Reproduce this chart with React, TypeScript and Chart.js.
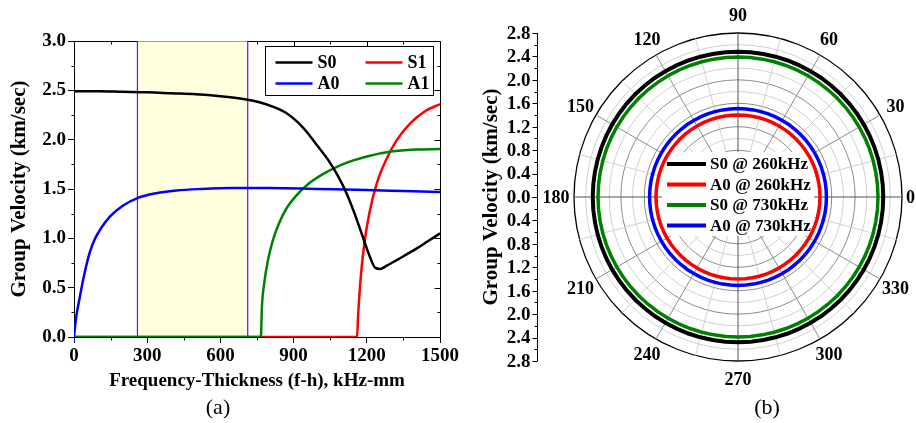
import React, { useEffect, useRef } from 'react';
import { Chart, registerables } from 'chart.js';

Chart.register(...registerables);

const SERIF = '"Liberation Serif", "Times New Roman", Times, serif';

// ---------- Panel (a): group velocity dispersion curves ----------
const s0Freq = [0, 100, 200, 300, 400, 500, 600, 700, 760, 820, 870, 920, 960, 1000, 1040, 1080, 1120, 1150, 1180, 1210, 1235, 1255, 1280, 1330, 1400, 1450, 1500];
const s0Vel = [2.49, 2.49, 2.485, 2.48, 2.47, 2.46, 2.44, 2.41, 2.38, 2.33, 2.27, 2.17, 2.06, 1.93, 1.8, 1.64, 1.44, 1.25, 1.04, 0.83, 0.7, 0.69, 0.72, 0.79, 0.89, 0.97, 1.05];

const s1Freq = [0, 1160, 1165, 1175, 1190, 1210, 1240, 1280, 1324, 1380, 1440, 1500];
const s1Vel = [0, 0, 0.25, 0.6, 0.95, 1.25, 1.55, 1.8, 2.0, 2.17, 2.29, 2.36];

const a0Freq = [0, 4, 10, 18, 25, 35, 50, 65, 85, 110, 147, 200, 262, 330, 420, 520, 650, 800, 1000, 1200, 1350, 1500];
const a0Vel = [0, 0.1, 0.22, 0.33, 0.42, 0.55, 0.72, 0.86, 0.99, 1.1, 1.22, 1.33, 1.41, 1.455, 1.485, 1.5, 1.51, 1.51, 1.5, 1.49, 1.48, 1.47];

const a1Freq = [0, 766, 770, 780, 795, 815, 840, 870, 910, 960, 1020, 1100, 1200, 1300, 1400, 1500];
const a1Vel = [0, 0, 0.3, 0.55, 0.78, 0.98, 1.15, 1.3, 1.43, 1.55, 1.65, 1.75, 1.83, 1.88, 1.9, 1.905];

const bandFreq = [260, 712];
const bandTop = 3.0;

const xTickStep = 300;
const xMinorStep = 150;
const yTickStep = 0.5;
const yMinorStep = 0.25;
const legendOrderA = ['S0', 'S1', 'A0', 'A1'];

// ---------- Panel (b): polar plot ----------
const polarLabels = ['S0 @ 260kHz', 'A0 @ 260kHz', 'S0 @ 730kHz', 'A0 @ 730kHz'];
const polarRadii = [2.48, 1.4, 2.39, 1.51];
const polarColors = ['#000000', '#ff0000', '#008000', '#0000ff'];
const polarWidths = [4, 3.5, 3.5, 3.5];
const angleTickLabels = [0, 30, 60, 90, 120, 150, 180, 210, 240, 270, 300, 330];
const radialTickLabels = [0, 0.4, 0.8, 1.2, 1.6, 2.0, 2.4, 2.8];
// angular categories every 5 degrees, clockwise from 90 (top)
const angleCategories = Array.from({ length: 72 }, (_, i) => (450 - 5 * i) % 360);

function line(ctx: CanvasRenderingContext2D, x1: number, y1: number, x2: number, y2: number) {
  ctx.beginPath();
  ctx.moveTo(x1, y1);
  ctx.lineTo(x2, y2);
  ctx.stroke();
}

const pts = (f: number[], v: number[]) => f.map((x, i) => ({ x, y: v[i] }));

const leftDecor = {
  id: 'leftDecor',
  beforeDatasetsDraw(chart: any) {
    const ctx = chart.ctx as CanvasRenderingContext2D;
    const { left, right, top, bottom } = chart.chartArea;
    const xs = chart.scales.x;
    const ys = chart.scales.y;
    ctx.save();
    ctx.strokeStyle = '#000';
    ctx.lineWidth = 1;
    const L = Math.round(left) + 0.5, R = Math.round(right) + 0.5;
    const T = Math.round(top) + 0.5, B = Math.round(bottom) + 0.5;
    line(ctx, L, T, R, T);
    line(ctx, R, T, R, B);
    for (let f = xs.min; f <= xs.max + 1e-6; f += xMinorStep) {
      const px = Math.round(xs.getPixelForValue(f)) + 0.5;
      const major = Math.abs(f / xTickStep - Math.round(f / xTickStep)) < 1e-6;
      if (!major) line(ctx, px, B, px, B + 3);
      line(ctx, px, T, px, T + (major ? 6 : 3));
    }
    for (let v = ys.min; v <= ys.max + 1e-6; v += yMinorStep) {
      const py = Math.round(ys.getPixelForValue(v)) + 0.5;
      const major = Math.abs(v / yTickStep - Math.round(v / yTickStep)) < 1e-6;
      if (!major) line(ctx, L, py, L - 3, py);
      line(ctx, R, py, R - (major ? 6 : 3), py);
    }
    ctx.restore();
  },
  afterDatasetsDraw(chart: any) {
    const ctx = chart.ctx as CanvasRenderingContext2D;
    const { right, top } = chart.chartArea;
    const bw = 168, bh = 49;
    const bx = Math.round(right - 7 - bw) + 0.5;
    const by = Math.round(top + 5) + 0.5;
    ctx.save();
    ctx.fillStyle = '#fff';
    ctx.fillRect(bx, by, bw, bh);
    ctx.strokeStyle = '#000';
    ctx.lineWidth = 1;
    ctx.strokeRect(bx, by, bw, bh);
    ctx.font = `bold 18px ${SERIF}`;
    ctx.textAlign = 'left';
    ctx.textBaseline = 'middle';
    legendOrderA.forEach((name, i) => {
      const ds = chart.data.datasets.find((d: any) => d.label === name);
      const col = i % 2;
      const row = Math.floor(i / 2);
      const x0 = bx + 10 + col * 90;
      const y = by + 16 + row * 21;
      ctx.strokeStyle = ds.borderColor;
      ctx.lineWidth = 2.5;
      line(ctx, x0, y, x0 + 37, y);
      ctx.fillStyle = '#000';
      ctx.fillText(name, x0 + 42, y + 1);
    });
    ctx.restore();
  },
  afterDraw(chart: any) {
    const ctx = chart.ctx as CanvasRenderingContext2D;
    ctx.save();
    ctx.fillStyle = '#000';
    ctx.font = `22px ${SERIF}`;
    ctx.textAlign = 'center';
    ctx.textBaseline = 'middle';
    ctx.fillText('(a)', 218, 408);
    ctx.restore();
  },
};

const polarDecor = {
  id: 'polarDecor',
  beforeDatasetsDraw(chart: any) {
    const ctx = chart.ctx as CanvasRenderingContext2D;
    const r = chart.scales.r;
    const cx = r.xCenter, cy = r.yCenter;
    ctx.save();
    ctx.fillStyle = '#fff';
    ctx.fillRect(cx - 76, cy - 45, 152, 84);
    ctx.font = `bold 17px ${SERIF}`;
    ctx.textAlign = 'left';
    ctx.textBaseline = 'middle';
    chart.data.datasets.forEach((ds: any, i: number) => {
      const y = cy - 33 + i * 20.5;
      ctx.strokeStyle = ds.borderColor;
      ctx.lineWidth = 4;
      line(ctx, cx - 71, y, cx - 32, y);
      ctx.fillStyle = '#000';
      ctx.fillText(ds.label, cx - 28, y + 1);
    });
    ctx.restore();
  },
  afterDraw(chart: any) {
    const ctx = chart.ctx as CanvasRenderingContext2D;
    const r = chart.scales.r;
    const cx = r.xCenter, cy = r.yCenter, R = r.drawingArea;
    ctx.save();
    ctx.strokeStyle = '#000';
    ctx.fillStyle = '#000';
    ctx.lineWidth = 1;
    const ax = Math.round(cx - R - 37) + 0.5;
    line(ctx, ax, cy - R, ax, cy + R);
    ctx.font = `bold 19px ${SERIF}`;
    ctx.textAlign = 'right';
    ctx.textBaseline = 'middle';
    r.ticks.forEach((t: any) => {
      const d = r.getDistanceFromCenterForValue(t.value);
      const major = radialTickLabels.some((v) => Math.abs(v - t.value) < 1e-6);
      [-1, 1].forEach((s) => {
        const y = Math.round(cy + s * d) + 0.5;
        line(ctx, ax, y, ax - (major ? 5 : 3), y);
        if (major && !(s === 1 && Math.abs(t.value) < 1e-6)) {
          ctx.fillText(Number(t.value).toFixed(1), ax - 7, cy + s * d + 1);
        }
      });
    });
    ctx.font = `bold 18px ${SERIF}`;
    ctx.textAlign = 'center';
    angleTickLabels.forEach((a) => {
      const idx = angleCategories.indexOf(a);
      const p = r.getPointPosition(idx, R + 18);
      const txt = String(a);
      const w = ctx.measureText(txt).width;
      const x = Math.min(p.x, chart.width - w / 2 - 1);
      ctx.fillText(txt, x, p.y + 1);
    });
    ctx.save();
    ctx.translate(12, cy);
    ctx.rotate(-Math.PI / 2);
    ctx.font = `bold 21px ${SERIF}`;
    ctx.fillText('Group Velocity (km/sec)', 0, 0);
    ctx.restore();
    ctx.font = `22px ${SERIF}`;
    ctx.fillText('(b)', 287, 408);
    ctx.restore();
  },
};

export default function App() {
  const leftRef = useRef<HTMLCanvasElement>(null);
  const rightRef = useRef<HTMLCanvasElement>(null);

  useEffect(() => {
    const tickFont = { family: SERIF, size: 19, weight: 'bold' as const };
    const curve = (label: string, f: number[], v: number[], color: string, order: number) => ({
      label,
      data: pts(f, v),
      borderColor: color,
      borderWidth: 2.5,
      pointRadius: 0,
      fill: false,
      cubicInterpolationMode: 'monotone' as const,
      order,
    });
    const left = new Chart(leftRef.current!, {
      type: 'line',
      data: {
        datasets: [
          curve('S0', s0Freq, s0Vel, '#000000', 0),
          curve('S1', s1Freq, s1Vel, '#ff0000', 3),
          curve('A0', a0Freq, a0Vel, '#0000ff', 1),
          curve('A1', a1Freq, a1Vel, '#008000', 2),
          {
            label: 'band',
            data: [
              { x: bandFreq[0], y: 0 },
              { x: bandFreq[0], y: bandTop },
              { x: bandFreq[1], y: bandTop },
              { x: bandFreq[1], y: 0 },
            ],
            borderColor: '#8000ff',
            backgroundColor: '#ffffe0',
            borderWidth: 1.2,
            pointRadius: 0,
            fill: 'origin',
            order: 10,
          },
        ],
      },
      options: {
        animation: false,
        responsive: false,
        layout: { padding: { left: 0, right: 40, top: 41, bottom: 0 } },
        plugins: { legend: { display: false }, tooltip: { enabled: false } },
        scales: {
          x: {
            type: 'linear',
            min: 0,
            max: 1500,
            afterFit: (s: any) => { s.height = 86; },
            ticks: { stepSize: xTickStep, autoSkip: false, maxRotation: 0, color: '#000', font: tickFont, padding: 2, callback: (v: any) => String(v) },
            grid: { drawOnChartArea: false, drawTicks: true, tickLength: 6, color: '#000', tickColor: '#000' },
            border: { display: true, color: '#000', width: 1 },
            title: { display: true, text: 'Frequency-Thickness (f-h), kHz-mm', color: '#000', font: { family: SERIF, size: 19, weight: 'bold' }, padding: { top: 0, bottom: 31 } },
          },
          y: {
            type: 'linear',
            min: 0,
            max: 3,
            afterFit: (s: any) => { s.width = 74; },
            ticks: { stepSize: yTickStep, autoSkip: false, color: '#000', font: tickFont, padding: 2, callback: (v: any) => Number(v).toFixed(1) },
            grid: { drawOnChartArea: false, drawTicks: true, tickLength: 6, color: '#000', tickColor: '#000' },
            border: { display: true, color: '#000', width: 1 },
            title: { display: true, text: 'Group Velocity (km/sec)', color: '#000', font: { family: SERIF, size: 21, weight: 'bold' }, padding: { top: 7, bottom: 0 } },
          },
        },
      },
      plugins: [leftDecor],
    } as any);

    const right = new Chart(rightRef.current!, {
      type: 'radar',
      data: {
        labels: angleCategories.map(String),
        datasets: polarRadii.map((rad, k) => ({
          label: polarLabels[k],
          data: angleCategories.map(() => rad),
          borderColor: polarColors[k],
          borderWidth: polarWidths[k],
          pointRadius: 0,
          fill: false,
          tension: 0,
        })),
      },
      options: {
        animation: false,
        responsive: false,
        layout: { padding: { left: 94, right: 14, top: 33, bottom: 62 } },
        plugins: { legend: { display: false }, tooltip: { enabled: false } },
        scales: {
          r: {
            min: 0,
            max: 2.8,
            startAngle: 0,
            ticks: { display: false, stepSize: 0.2 },
            pointLabels: { display: false },
            grid: {
              circular: true,
              color: (c: any) => {
                const v = c.tick ? c.tick.value : 0;
                if (v > 2.79) return '#000000';
                return Math.round(v * 10) % 4 === 0 ? '#8c8c8c' : '#d0d0d0';
              },
              lineWidth: (c: any) => (c.tick && c.tick.value > 2.79 ? 1.3 : 1),
            },
            angleLines: {
              display: true,
              color: (c: any) => (c.index % 18 === 0 ? '#555555' : c.index % 6 === 0 ? '#8c8c8c' : c.index % 3 === 0 ? '#d0d0d0' : 'rgba(0,0,0,0)'),
              lineWidth: (c: any) => (c.index % 3 === 0 ? 1 : 0),
            },
          },
        },
      },
      plugins: [polarDecor],
    } as any);

    return () => {
      left.destroy();
      right.destroy();
    };
  }, []);

  return (
    <div style={{ position: 'absolute', left: 0, top: 0, width: 916, height: 423, background: '#fff' }}>
      <canvas ref={leftRef} width={480} height={423} style={{ position: 'absolute', left: 0, top: 0, display: 'block' }} />
      <canvas ref={rightRef} width={436} height={423} style={{ position: 'absolute', left: 480, top: 0, display: 'block' }} />
    </div>
  );
}
